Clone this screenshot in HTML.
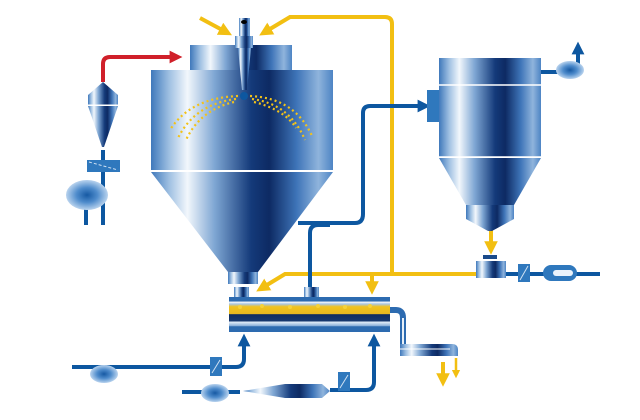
<!DOCTYPE html>
<html><head><meta charset="utf-8"><style>
html,body{margin:0;padding:0;background:#fff;width:640px;height:420px;overflow:hidden}
</style></head><body>
<svg width="640" height="420" viewBox="0 0 640 420" xmlns="http://www.w3.org/2000/svg">
<defs>
<linearGradient id="m" x1="0" x2="1" y1="0" y2="0">
<stop offset="0" stop-color="#3f78bb"/>
<stop offset="0.1" stop-color="#9fc0e2"/>
<stop offset="0.2" stop-color="#f2f7fc"/>
<stop offset="0.35" stop-color="#7ea6d3"/>
<stop offset="0.55" stop-color="#143a7a"/>
<stop offset="0.65" stop-color="#0d2a63"/>
<stop offset="0.8" stop-color="#3e74b8"/>
<stop offset="0.92" stop-color="#8fb4dc"/>
<stop offset="1" stop-color="#4d84c4"/>
</linearGradient>
<radialGradient id="b"><stop offset="0" stop-color="#1659a3"/><stop offset="0.5" stop-color="#4f8ccc"/><stop offset="1" stop-color="#b9d3ee"/></radialGradient>
<linearGradient id="bed" x1="0" x2="0" y1="0" y2="1">
<stop offset="0" stop-color="#2d6bb0"/><stop offset="0.12" stop-color="#2d6bb0"/>
<stop offset="0.14" stop-color="#fff"/><stop offset="0.2" stop-color="#a8c6e6"/>
<stop offset="0.28" stop-color="#f1c31d"/><stop offset="0.48" stop-color="#e6b820"/>
<stop offset="0.5" stop-color="#0e2c60"/><stop offset="0.68" stop-color="#16386f"/>
<stop offset="0.72" stop-color="#dfeaf6"/><stop offset="0.82" stop-color="#8fb3db"/>
<stop offset="0.85" stop-color="#2d6bb0"/><stop offset="1" stop-color="#2d6bb0"/>
</linearGradient>
<marker id="ay" viewBox="0 0 10 10" refX="5" refY="5" markerWidth="3.4" markerHeight="3.4" orient="auto"><path d="M0,0L10,5L0,10z" fill="#f2bf12"/></marker>
<marker id="ab" viewBox="0 0 10 10" refX="5" refY="5" markerWidth="3.2" markerHeight="3.2" orient="auto"><path d="M0,0L10,5L0,10z" fill="#0d57a0"/></marker>
<marker id="ar" viewBox="0 0 10 10" refX="5" refY="5" markerWidth="3.2" markerHeight="3.2" orient="auto"><path d="M0,0L10,5L0,10z" fill="#d0202a"/></marker>
</defs>

<g fill="none" stroke="#f2bf12" stroke-width="4">
<path d="M392,274 V24 Q392,17 385,17 H290 L265,32" marker-end="url(#ay)"/>
<path d="M200,18 L226,32" marker-end="url(#ay)"/>
<path d="M478,274 H285 L262,288" marker-end="url(#ay)"/>
<path d="M372,274 V288" marker-end="url(#ay)"/>
<path d="M491,230 V248" marker-end="url(#ay)"/>
<path d="M443,362 V380" marker-end="url(#ay)"/>
<path d="M456,358 V374" stroke-width="2.5" marker-end="url(#ay)"/>
</g>

<path d="M103,82 V64 Q103,57 110,57 H176" fill="none" stroke="#d0202a" stroke-width="4" marker-end="url(#ar)"/>

<g fill="none" stroke="#0d57a0" stroke-width="4">
<path d="M298,223 H355 Q363,223 363,214 V113 Q363,106 370,106 H424" marker-end="url(#ab)"/>
<path d="M310,290 V233 Q310,225 318,225 H330"/>
<path d="M103,150 V225"/>
<path d="M86,195 V225"/>
<path d="M72,367 H236 Q244,367 244,359 V340" marker-end="url(#ab)"/>
<path d="M182,392 H240"/>
<path d="M330,390 H366 Q374,390 374,382 V340" marker-end="url(#ab)"/>
<path d="M506,274 H600"/>
<path d="M541,72 H565"/>
<path d="M578,70 V48" marker-end="url(#ab)"/>
</g>

<rect x="190" y="45" width="102" height="25" fill="url(#m)"/>
<rect x="151" y="70" width="182" height="101" fill="url(#m)"/>
<line x1="151" y1="171" x2="333" y2="171" stroke="#fff" stroke-width="2"/>
<path d="M151,172 L333,172 L258,272 L228,272 Z" fill="url(#m)"/>
<rect x="228" y="272" width="30" height="12" fill="url(#m)"/>
<rect x="239" y="18" width="11" height="22" fill="url(#m)"/>
<rect x="235" y="36" width="18" height="12" fill="url(#m)"/>
<path d="M238,48 H251 L247,90 H242 Z" fill="url(#m)"/>
<ellipse cx="244" cy="22" rx="3" ry="2" fill="#000"/>
<circle cx="244" cy="96" r="4" fill="#0d57a0"/>
<g fill="none" stroke="#f2c21a" stroke-width="2.2" stroke-dasharray="2 3">
<path d="M238,96 Q190,98 170,130"/>
<path d="M236,99 Q195,104 178,138"/>
<path d="M234,102 Q200,110 186,140"/>
<path d="M250,96 Q295,98 312,136"/>
<path d="M252,99 Q290,104 305,140"/>
<path d="M254,102 Q285,110 296,128"/>
</g>

<path d="M103,82 L118,95 H88 Z" fill="url(#m)"/>
<rect x="88" y="95" width="30" height="10" fill="url(#m)"/>
<line x1="88" y1="105" x2="118" y2="105" stroke="#fff"/>
<path d="M88,106 H118 L104,147 H102 Z" fill="url(#m)"/>
<rect x="87" y="160" width="33" height="12" fill="#2f78bd"/>
<line x1="89" y1="162" x2="118" y2="170" stroke="#cfe1f3" stroke-dasharray="3 2"/>
<ellipse cx="87" cy="195" rx="21" ry="15" fill="url(#b)"/>

<rect x="427" y="90" width="14" height="32" fill="#2f78bd"/>
<rect x="439" y="58" width="102" height="99" fill="url(#m)"/>
<line x1="439" y1="85" x2="541" y2="85" stroke="#fff" stroke-width="1.5"/>
<line x1="439" y1="157" x2="541" y2="157" stroke="#fff" stroke-width="1.5"/>
<path d="M439,158 H541 L514,205 H466 Z" fill="url(#m)"/>
<rect x="466" y="205" width="48" height="14" fill="url(#m)"/>
<path d="M466,219 H514 L492,231 H488 Z" fill="url(#m)"/>
<ellipse cx="570" cy="70" rx="14" ry="9" fill="url(#b)"/>
<rect x="483" y="255" width="14" height="4" fill="#1a4a8a"/>
<rect x="476" y="261" width="30" height="17" fill="url(#m)"/>
<rect x="518" y="264" width="12" height="18" fill="#2f78bd"/>
<line x1="520" y1="280" x2="528" y2="266" stroke="#cfe1f3"/>
<rect x="543" y="265" width="34" height="16" rx="8" fill="#2f78bd"/>
<rect x="553" y="270" width="20" height="6" rx="3" fill="#eaf2fb"/>

<rect x="234" y="287" width="15" height="10" fill="url(#m)"/>
<rect x="304" y="287" width="15" height="10" fill="url(#m)"/>
<rect x="229" y="297" width="161" height="35" fill="url(#bed)"/>
<g fill="#f5d23a"><circle cx="240" cy="307" r="2"/><circle cx="262" cy="306" r="2"/><circle cx="290" cy="307" r="2"/><circle cx="318" cy="306" r="2"/><circle cx="345" cy="307" r="2"/><circle cx="370" cy="306" r="2"/></g>
<path d="M390,310 H396 Q403,310 403,318 V346" fill="none" stroke="#2d6bb0" stroke-width="6"/>
<path d="M403,318 V346" stroke="#e8f0f8" stroke-width="2"/>
<path d="M400,344 H452 Q458,344 458,350 V356 H452 L400,356 Z" fill="url(#m)"/>
<path d="M400,349 H450" stroke="#fff" stroke-width="1"/>

<ellipse cx="104" cy="374" rx="14" ry="9" fill="url(#b)"/>
<rect x="210" y="357" width="12" height="19" fill="#2f78bd"/>
<line x1="212" y1="373" x2="220" y2="360" stroke="#cfe1f3"/>
<ellipse cx="215" cy="393" rx="14" ry="9" fill="url(#b)"/>
<path d="M243,391 L285,384 H322 L330,391 L322,398 H285 Z" fill="url(#m)"/>
<rect x="338" y="372" width="12" height="19" fill="#2f78bd"/>
<line x1="340" y1="388" x2="348" y2="375" stroke="#cfe1f3"/>
</svg>
</body></html>
